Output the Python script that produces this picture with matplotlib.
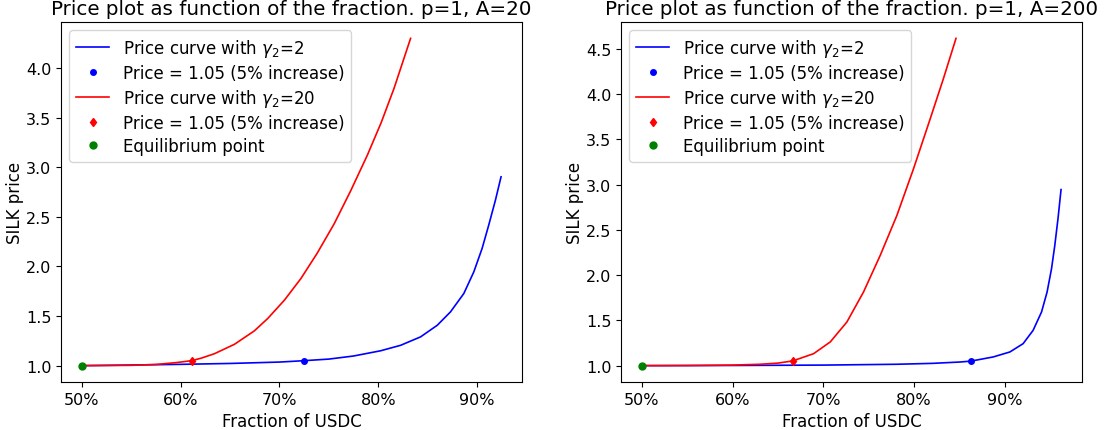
import matplotlib
matplotlib.use("Agg")
import matplotlib.pyplot as plt
from matplotlib.ticker import PercentFormatter

# ---- values ----
# A = 20
frac_a20_g2 = [0.50, 0.55, 0.60, 0.65, 0.70, 0.725, 0.75, 0.775, 0.8025, 0.8227,
               0.8429, 0.8598, 0.8732, 0.8867, 0.8968, 0.9052, 0.9119, 0.9187, 0.9244]
price_a20_g2 = [1.000, 1.006, 1.013, 1.022, 1.036, 1.050, 1.066, 1.097, 1.150, 1.205,
                1.290, 1.407, 1.542, 1.727, 1.945, 2.181, 2.416, 2.668, 2.904]
frac_a20_g20 = [0.50, 0.55, 0.575, 0.595, 0.611, 0.6207, 0.6341, 0.6544, 0.6745,
                0.6881, 0.705, 0.7217, 0.738, 0.7554, 0.772, 0.789, 0.803, 0.816, 0.8328]
price_a20_g20 = [1.000, 1.003, 1.012, 1.030, 1.050, 1.075, 1.120, 1.215, 1.350,
                 1.475, 1.660, 1.878, 2.130, 2.430, 2.760, 3.122, 3.450, 3.795, 4.300]

# A = 200
frac_a200_g2 = [0.50, 0.60, 0.70, 0.78, 0.82, 0.8506, 0.8627, 0.8872, 0.9056, 0.9202,
                0.9312, 0.9405, 0.9466, 0.9515, 0.9551, 0.9587, 0.962]
price_a200_g2 = [1.000, 1.002, 1.006, 1.015, 1.025, 1.040, 1.050, 1.096, 1.151, 1.243,
                 1.390, 1.593, 1.813, 2.071, 2.328, 2.630, 2.946]
frac_a200_g20 = [0.50, 0.55, 0.60, 0.63, 0.65, 0.6661, 0.6892, 0.7076, 0.7259, 0.7442,
                 0.7626, 0.781, 0.7993, 0.8177, 0.8322, 0.8462]
price_a200_g20 = [1.000, 1.001, 1.006, 1.015, 1.028, 1.052, 1.132, 1.262, 1.482, 1.813,
                  2.217, 2.659, 3.174, 3.726, 4.168, 4.617]

# 5% increase points and equilibrium
hit_a20 = {"g2": (0.725, 1.05), "g20": (0.611, 1.05)}
hit_a200 = {"g2": (0.8627, 1.05), "g20": (0.6661, 1.05)}
equilibrium = (0.5, 1.0)

FS = 12

fig = plt.figure(figsize=(11.05, 4.31), dpi=100)
ax1 = fig.add_axes([61 / 1105, 48 / 431, 461 / 1105, 360 / 431])
ax2 = fig.add_axes([621 / 1105, 48 / 431, 461 / 1105, 360 / 431])


def panel(ax, fx2, py2, fx20, py20, hits, title):
    ax.plot(fx2, py2, color="blue", lw=1.2, label=r"Price curve with $\gamma_2$=2")
    ax.plot(*hits["g2"], ".", color="blue", ms=8, label="Price = 1.05 (5% increase)")
    ax.plot(fx20, py20, color="red", lw=1.2, label=r"Price curve with $\gamma_2$=20")
    ax.plot(*hits["g20"], "d", color="red", ms=4.5, label="Price = 1.05 (5% increase)")
    ax.plot(*equilibrium, "o", color="green", ms=5, label="Equilibrium point")
    ax.xaxis.set_major_formatter(PercentFormatter(1.0, decimals=0))
    ax.tick_params(labelsize=11.5)
    ax.set_xlabel("Fraction of USDC", fontsize=FS)
    ax.set_ylabel("SILK price", fontsize=FS, labelpad=1)
    ax.set_title(title, fontsize=14.3)
    ax.legend(loc="upper left", fontsize=FS, labelspacing=0.3)


panel(ax1, frac_a20_g2, price_a20_g2, frac_a20_g20, price_a20_g20, hit_a20,
      "Price plot as function of the fraction. p=1, A=20")
panel(ax2, frac_a200_g2, price_a200_g2, frac_a200_g20, price_a200_g20, hit_a200,
      "Price plot as function of the fraction. p=1, A=200")

fig.savefig("out.png", dpi=100, facecolor="white")
